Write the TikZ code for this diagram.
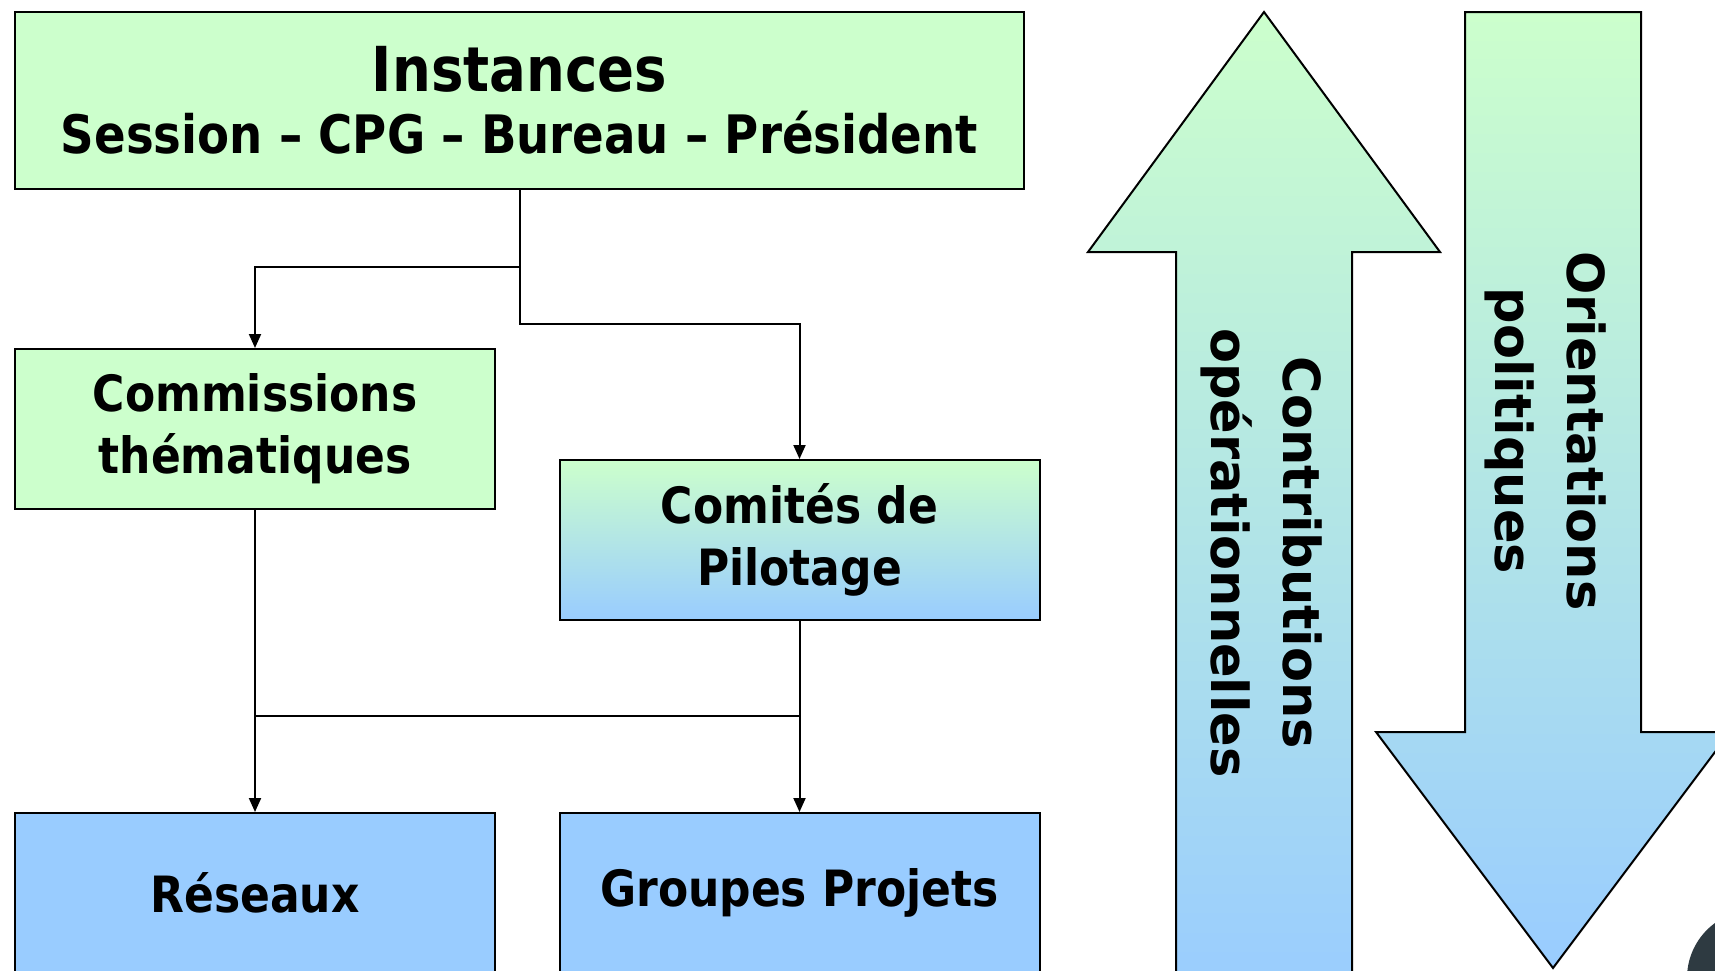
\documentclass[tikz,border=0pt]{standalone}
\usepackage{fontspec}
\usetikzlibrary{arrows.meta,positioning}
\newfontfamily\narrowfont[FakeStretch=0.88]{DejaVu Sans Bold}
\newfontfamily\arrowfont{DejaVu Sans Bold}
\definecolor{paleGreen}{HTML}{CCFFCC}
\definecolor{paleBlue}{HTML}{99CCFF}
\definecolor{logoGrey}{HTML}{2E3A41}

\tikzset{
  box/.style={draw, line width=2pt, minimum width=480pt, minimum height=160pt,
    inner sep=0pt, align=center, font=\narrowfont\fontsize{50}{62}\selectfont},
  greenbox/.style={box, fill=paleGreen},
  bluebox/.style={box, fill=paleBlue},
  mixbox/.style={box, top color=paleGreen, bottom color=paleBlue},
  link/.style={line width=2pt, -{Triangle[width=12pt,length=14pt]}},
  bigarrow/.style={draw, line width=2pt, top color=paleGreen, bottom color=paleBlue},
  arrowtext/.style={rotate=-90, align=center, inner sep=0pt,
    font=\arrowfont\fontsize{51}{72}\selectfont},
}

\begin{document}
\begin{tikzpicture}[x=1pt,y=-1pt]
        \useasboundingbox (0,0) rectangle (1715,970);
        \clip (0,0) rectangle (1715,970);
        \fill[white] (0,0) rectangle (1715,970);

        % The two big arrows on the right
        \draw[bigarrow] (1264,12) -- (1440,252) -- (1352,252) -- (1352,1000)
          -- (1176,1000) -- (1176,252) -- (1088,252) -- cycle;
        \draw[bigarrow] (1465,12) -- (1641,12) -- (1641,732) -- (1730,732)
          -- (1553,968) -- (1376,732) -- (1465,732) -- cycle;
        \node[arrowtext] (contrib) at (1262,553) {Contributions\\op\'erationnelles};
        \node[arrowtext] (orient) at (1546,431) {Orientations\\politiques};

        % The boxes
        \node[greenbox, minimum width=1009pt, minimum height=177pt] (inst) at (519.5,100)
          {\fontsize{62}{66}\selectfont Instances\\
           \fontsize{53}{66}\selectfont Session – CPG – Bureau – Président};
        \node[greenbox] (comm) at (255,429) {Commissions\\thématiques};
        \node[mixbox] (comi) at (799.5,540) {Comités de\\Pilotage};
        \node[bluebox] (res) at (255,893) {Réseaux};
        \node[bluebox] (grp) at (799.5,893) {Groupes Projets};

        % Connectors
        \coordinate (forkL) at (519.5,267);
        \coordinate (forkR) at (519.5,324);
        \draw[link] (inst.south) -- (forkL) -| (comm.north);
        \draw[link] (forkL) -- (forkR) -| (comi.north);
        \coordinate (busL) at (255,716);
        \coordinate (busR) at (799.5,716);
        \draw[link] (comm.south) -- (res.north);
        \draw[link] (comi.south) -- (grp.north);
        \draw[line width=2pt] (busL) -- (busR);

        % Corner of the logo
        \fill[logoGrey] (1755,978) circle (68pt);
\end{tikzpicture}
\end{document}
